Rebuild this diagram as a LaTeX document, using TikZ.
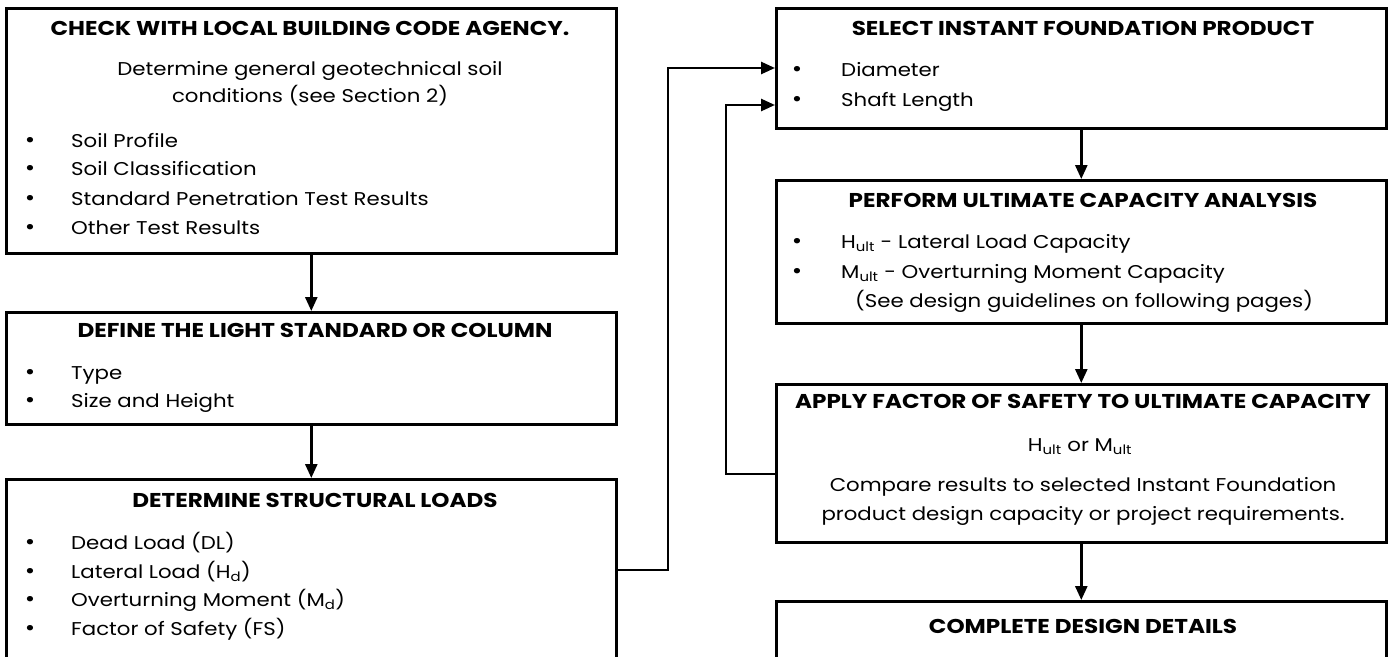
\documentclass[tikz,border=0pt]{standalone}
\usepackage{fontspec}
\setmainfont{Poppins}[FakeStretch=1.15]
\newfontfamily\ttlfont{Poppins}[FakeStretch=1.155]
\usetikzlibrary{arrows.meta}
\begin{document}
\begin{tikzpicture}[x=1pt,y=-1pt,
  box/.style={draw, line width=2.6pt, rectangle, inner sep=0pt, anchor=north west},
  ttl/.style={anchor=base, inner sep=0pt, font=\ttlfont\fontsize{20}{22}\selectfont\bfseries},
  txt/.style={anchor=base west, inner sep=0pt, font=\fontsize{18.5}{21}\selectfont},
  ctxt/.style={anchor=base, inner sep=0pt, font=\fontsize{18.5}{21}\selectfont},
  bul/.style={anchor=base, inner sep=0pt, font=\fontsize{22}{22}\selectfont},
  arr/.style={line width=2.6pt, -{Triangle[length=14pt,width=12pt]}},
]
\useasboundingbox (0,0) rectangle (1392,656);
\clip (0,0) rectangle (1392,656);
% boxes
\node[box, minimum width=610pt, minimum height=245pt] (b1) at (5,7) {};
\node[box, minimum width=610pt, minimum height=112pt] (b2) at (5,311) {};
\node[box, minimum width=610pt, minimum height=210pt] (b3) at (5,478) {};
\node[box, minimum width=610pt, minimum height=120pt] (b4) at (775,7) {};
\node[box, minimum width=610pt, minimum height=143pt] (b5) at (775,179) {};
\node[box, minimum width=610pt, minimum height=158pt] (b6) at (775,383) {};
\node[box, minimum width=610pt, minimum height=110pt] (b7) at (775,600) {};
% box 1
\node[ttl] (t1) at (310,35) {CHECK WITH LOCAL BUILDING CODE AGENCY.};
\node[ctxt] (t1a) at (310,75) {Determine general geotechnical soil};
\node[ctxt] (t1b) at (310,102) {conditions (see Section 2)};
\node[bul] (u1a) at (30,147) {\textbullet}; \node[txt] (t1c) at (71,147) {Soil Profile};
\node[bul] (u1b) at (30,175) {\textbullet}; \node[txt] (t1d) at (71,175) {Soil Classification};
\node[bul] (u1c) at (30,205) {\textbullet}; \node[txt] (t1e) at (71,205) {Standard Penetration Test Results};
\node[bul] (u1d) at (30,234) {\textbullet}; \node[txt] (t1f) at (71,234) {Other Test Results};
% box 2
\node[ttl] (t2) at (315,337) {DEFINE THE LIGHT STANDARD OR COLUMN};
\node[bul] (u2a) at (30,379) {\textbullet}; \node[txt] (t2a) at (71,379) {Type};
\node[bul] (u2b) at (30,407) {\textbullet}; \node[txt] (t2b) at (71,407) {Size and Height};
% box 3
\node[ttl] (t3) at (315,507) {DETERMINE STRUCTURAL LOADS};
\node[bul] (u3a) at (30,549) {\textbullet}; \node[txt] (t3a) at (71,549) {Dead Load (DL)};
\node[bul] (u3b) at (30,578) {\textbullet}; \node[txt] (t3b) at (71,578) {Lateral Load (H\textsubscript{d})};
\node[bul] (u3c) at (30,606) {\textbullet}; \node[txt] (t3c) at (71,606) {Overturning Moment (M\textsubscript{d})};
\node[bul] (u3d) at (30,635) {\textbullet}; \node[txt] (t3d) at (71,635) {Factor of Safety (FS)};
% box 4
\node[ttl] (t4) at (1083,35) {SELECT INSTANT FOUNDATION PRODUCT};
\node[bul] (u4a) at (797,76) {\textbullet}; \node[txt] (t4a) at (841,76) {Diameter};
\node[bul] (u4b) at (797,106) {\textbullet}; \node[txt] (t4b) at (841,106) {Shaft Length};
% box 5
\node[ttl] (t5) at (1083,207) {PERFORM ULTIMATE CAPACITY ANALYSIS};
\node[bul] (u5a) at (797,248) {\textbullet}; \node[txt] (t5a) at (841,248) {H\textsubscript{ult} - Lateral Load Capacity};
\node[bul] (u5b) at (797,278) {\textbullet}; \node[txt] (t5b) at (841,278) {M\textsubscript{ult} - Overturning Moment Capacity};
\node[txt] (t5c) at (855,307) {(See design guidelines on following pages)};
% box 6
\node[ttl] (t6) at (1083,408) {APPLY FACTOR OF SAFETY TO ULTIMATE CAPACITY};
\node[ctxt] (t6a) at (1080,451) {H\textsubscript{ult} or M\textsubscript{ult}};
\node[ctxt] (t6b) at (1083,491) {Compare results to selected Instant Foundation};
\node[ctxt] (t6c) at (1083,520) {product design capacity or project requirements.};
% box 7
\node[ttl] (t7) at (1083,633) {COMPLETE DESIGN DETAILS};
% connectors
\draw[arr] (b1.south) -- (b2.north);
\draw[arr] (b2.south) -- (b3.north);
\draw[arr] (b4.south) -- (b5.north);
\draw[arr] (b5.south) -- (b6.north);
\draw[arr] (b6.south) -- (b7.north);
\coordinate (j1) at (668,570);
\coordinate (j2) at (668,68);
\draw[arr] (b3.east |- j1) -- (j1) -- (j2) -- (b4.west |- j2);
\coordinate (k1) at (726,474);
\coordinate (k2) at (726,105);
\draw[arr] (b6.west |- k1) -- (k1) -- (k2) -- (b4.west |- k2);
\end{tikzpicture}
\end{document}
